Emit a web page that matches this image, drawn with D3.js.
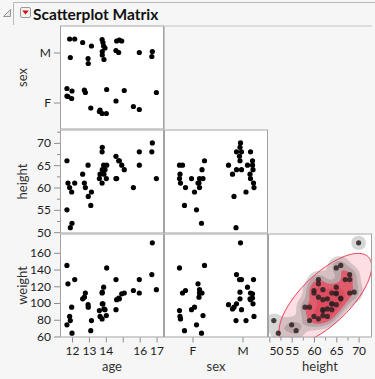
<!DOCTYPE html>
<html>
<head>
<meta charset="utf-8">
<script src="https://cdn.jsdelivr.net/npm/d3@7"></script>
<style>
  body { margin: 0; background: #f6f6f6; }
  svg { display: block; font-family: Lato, "Noto Sans", sans-serif; }
</style>
</head>
<body>
<script>
// Big Class, 40 students
const names = ['KATIE', 'LOUISE', 'JANE', 'JACLYN', 'LILLIE', 'TIM', 'JAMES', 'ROBERT', 'BARBARA', 'ALICE',
  'SUSAN', 'JOHN', 'JOE', 'MICHAEL', 'DAVID', 'JUDY', 'ELIZABETH', 'LESLIE', 'CAROL', 'PATTY',
  'FREDERICK', 'ALFRED', 'HENRY', 'LEWIS', 'EDWARD', 'CHRIS', 'JEFFREY', 'MARY', 'AMY', 'ROBERT',
  'WILLIAM', 'CLAY', 'MARK', 'DANNY', 'MARTHA', 'MARION', 'PHILLIP', 'LINDA', 'KIRK', 'LAWRENCE']
const ages = [12, 12, 12, 12, 12, 12, 12, 12, 13, 13, 13, 13, 13, 13, 13, 14, 14, 14, 14, 14,
  14, 14, 14, 14, 14, 14, 14, 15, 15, 15, 15, 15, 15, 15, 16, 16, 16, 17, 17, 17]
const sexes = ['F', 'F', 'F', 'F', 'F', 'M', 'M', 'M', 'F', 'F', 'F', 'M', 'M', 'M', 'M', 'F', 'F', 'F', 'F', 'F',
  'M', 'M', 'M', 'M', 'M', 'M', 'M', 'F', 'F', 'M', 'M', 'M', 'M', 'M', 'F', 'F', 'M', 'F', 'M', 'M']
const heights = [59, 61, 55, 66, 52, 60, 61, 51, 60, 61, 56, 65, 63, 58, 59, 61, 62, 65, 63, 62,
  63, 64, 65, 64, 68, 64, 69, 62, 64, 67, 65, 66, 62, 66, 60, 65, 68, 62, 68, 70]
const weights = [95, 123, 74, 145, 64, 84, 128, 79, 112, 107, 67, 98, 105, 95, 79, 81, 91, 142, 84, 85,
  93, 99, 119, 92, 112, 99, 113, 92, 112, 128, 111, 105, 104, 106, 115, 112, 128, 116, 134, 172]

// jittered positions as drawn
const ageShown = [11.98, 11.76, 11.70, 11.70, 12.00, 11.86, 12.16, 11.90, 12.79, 12.73,
  13.11, 12.95, 12.63, 12.96, 13.15, 13.78, 13.62, 14.05, 13.66, 14.03,
  13.89, 13.79, 13.87, 13.95, 13.78, 13.83, 13.79, 14.60, 15.09, 14.60,
  14.94, 14.80, 14.64, 14.76, 15.63, 15.98, 15.98, 16.99, 16.72, 16.75]
const sexRowShown = [0.08, 0.12, 0.13, 0.28, 0.23, 1.27, 1.27, 0.90, 0.20, 0.25,
  -0.11, 0.88, 1.20, 0.78, 1.13, -0.22, -0.18, 0.26, -0.15, -0.22,
  0.86, 0.95, 1.13, 1.09, 1.26, 1.20, 1.02, 0.03, 0.24, 1.04,
  1.23, 1.25, 1.23, 1.00, -0.08, -0.14, 1.00, 0.20, 0.92, 1.02]
const sexColShown = [0.04, 0.11, 0.08, 0.24, 0.18, 1.23, 1.22, 0.87, 0.14, 0.13,
  -0.16, 0.72, 1.15, 0.83, 1.07, -0.24, -0.26, -0.26, -0.25, 0.21,
  0.80, 0.88, 1.10, 0.98, 1.16, 1.21, 0.95, -0.02, 0.19, 0.94,
  1.20, 0.95, 1.16, 1.20, -0.14, -0.20, 0.98, 0.14, 0.88, 0.96]

const sexLevels = ['F', 'M']
const ageTicks = [12, 13, 14, 15, 16, 17]
const ageLabels = [12, 13, 14, 16, 17]
const heightTicks = [50, 55, 60, 65, 70]
const heightMinor = [52.5, 57.5, 62.5, 67.5, 72.5]
const weightTicks = [60, 80, 100, 120, 140, 160]

const rowVars = ['sex', 'height', 'weight']
const colVars = ['age', 'sex', 'height']

const width = 375
const height = 379
const CELL = 104
const X0 = 60
const Y0 = 25.5
const R = 2.6

const rows = names.map((n, i) => ({
  name: n,
  age: ageShown[i],
  sexX: sexColShown[i],
  sexY: sexRowShown[i],
  height: heights[i],
  weight: weights[i]
}))

const xScale = {
  age: d3.scaleLinear().domain([11.29, 17.44]).range([0, CELL]),
  sex: d3.scaleLinear().domain([-0.57, 1.51]).range([0, CELL]),
  height: d3.scaleLinear().domain([49.7, 73]).range([0, CELL])
}
const yScale = {
  sex: d3.scaleLinear().domain([-0.54, 1.54]).range([CELL, 0]),
  height: d3.scaleLinear().domain([49.7, 73]).range([CELL, 0]),
  weight: d3.scaleLinear().domain([58.8, 183.1]).range([CELL, 0])
}
const xValue = { age: d => d.age, sex: d => d.sexX, height: d => d.height }
const yValue = { sex: d => d.sexY, height: d => d.height, weight: d => d.weight }

const svg = d3.select('body').append('svg')
  .attr('width', width)
  .attr('height', height)

svg.append('rect').attr('width', width).attr('height', height).attr('fill', '#f6f6f6')

// outline header
const head = svg.append('g')
head.append('path')
  .attr('d', 'M13.5,25 V2.5 H375')
  .attr('fill', 'none')
  .attr('stroke', '#b8b8b8')
head.append('path')
  .attr('d', 'M3.5,16.5 L10.5,9.5 L10.5,16.5 Z')
  .attr('fill', '#e8e8e8')
  .attr('stroke', '#8a8a8a')
  .attr('stroke-width', 0.9)
head.append('rect')
  .attr('x', 20.5).attr('y', 7.5)
  .attr('width', 10).attr('height', 10)
  .attr('rx', 1.5)
  .attr('fill', '#f2f2f2')
  .attr('stroke', '#9a9a9a')
head.append('path')
  .attr('d', 'M22.2,10.6 L28.8,10.6 L25.5,14.6 Z')
  .attr('fill', '#d81010')
head.append('text')
  .attr('x', 33).attr('y', 19.5)
  .attr('font-size', 15.5)
  .attr('font-weight', 'bold')
  .attr('fill', '#111')
  .text('Scatterplot Matrix')

const clipId = 'cellclip'
svg.append('defs').append('clipPath').attr('id', clipId)
  .append('rect').attr('width', CELL).attr('height', CELL)

rowVars.forEach((rv, r) => {
  colVars.forEach((cv, c) => {
    if (c > r) return
    const xs = xScale[cv]
    const ys = yScale[rv]
    const g = svg.append('g').attr('transform', `translate(${X0 + c * CELL},${Y0 + r * CELL})`)

    g.append('rect')
      .attr('width', CELL).attr('height', CELL)
      .attr('fill', '#fff')

    const plot = g.append('g').attr('clip-path', `url(#${clipId})`)

    if (rv === 'weight' && cv === 'height') {
      drawDensity(plot, xs, ys)
    } else {
      plot.selectAll('circle')
        .data(rows)
        .join('circle')
        .attr('cx', d => xs(xValue[cv](d)))
        .attr('cy', d => ys(yValue[rv](d)))
        .attr('r', R)
        .attr('fill', '#000')
    }

    g.append('rect')
      .attr('x', 0.5).attr('y', 0.5)
      .attr('width', CELL - 1).attr('height', CELL - 1)
      .attr('fill', 'none')
      .attr('stroke', '#a3a3a3')
  })
})

function drawDensity (plot, xs, ys) {
  // 95% bivariate normal density ellipse
  const mx = d3.mean(heights)
  const my = d3.mean(weights)
  const sx = d3.deviation(heights)
  const sy = d3.deviation(weights)
  const cov = d3.sum(heights, (h, i) => (h - mx) * (weights[i] - my)) / (heights.length - 1)
  const rho = cov / (sx * sy)
  const k = Math.sqrt(5.991)
  const ell = d3.range(0, 361, 3).map(a => {
    const t = a * Math.PI / 180
    return [
      xs(mx + k * sx * Math.cos(t)),
      ys(my + k * sy * (rho * Math.cos(t) + Math.sqrt(1 - rho * rho) * Math.sin(t)))
    ]
  })
  const line = d3.line().curve(d3.curveLinearClosed)

  plot.append('path')
    .attr('d', line(ell))
    .attr('fill', 'rgba(240,40,70,0.15)')

  // nonparametric density contours
  const bw = 5.5
  const p1 = 1 / (2 * Math.PI * bw * bw)
  const levels = [0.4 * p1, 0.95 * p1, 1.7 * p1, 2.9 * p1]
  const fills = ['rgba(120,120,120,0.3)', 'rgba(90,60,66,0.2)', 'rgba(246,45,70,0.6)', 'rgba(210,20,45,0.2)']
  const contours = d3.contourDensity()
    .x(d => xs(d.height))
    .y(d => ys(d.weight))
    .size([CELL, CELL])
    .cellSize(2)
    .bandwidth(bw)
    .thresholds(levels)(rows)

  plot.append('g')
    .selectAll('path')
    .data(contours)
    .join('path')
    .attr('d', d3.geoPath())
    .attr('fill', (d, i) => fills[i])

  plot.append('path')
    .attr('d', line(ell))
    .attr('fill', 'none')
    .attr('stroke', '#e83a52')
    .attr('stroke-width', 1)

  plot.selectAll('circle')
    .data(rows)
    .join('circle')
    .attr('cx', d => xs(d.height))
    .attr('cy', d => ys(d.weight))
    .attr('r', R)
    .attr('fill', '#2a2022')
    .attr('fill-opacity', 0.85)
}

// empty upper cells
svg.append('path')
  .attr('d', `M${X0 + CELL + 0.5},${Y0 + CELL + 0.5} V${Y0 + 0.5} H${X0 + 3 * CELL}`)
  .attr('fill', 'none')
  .attr('stroke', '#c4c4c4')

// axes
function styleAxis (g) {
  g.select('.domain').remove()
  g.selectAll('.tick line').attr('stroke', '#8c8c8c')
  g.selectAll('.tick text')
    .attr('fill', '#1c1c1c')
    .attr('font-size', 12)
    .attr('font-family', 'Lato, "Noto Sans", sans-serif')
}

const leftAxes = {
  sex: d3.axisLeft(yScale.sex).tickValues([0, 1]).tickFormat(d => sexLevels[d]),
  height: d3.axisLeft(yScale.height).tickValues(heightTicks),
  weight: d3.axisLeft(yScale.weight).tickValues(weightTicks)
}
rowVars.forEach((rv, r) => {
  const g = svg.append('g')
    .attr('transform', `translate(${X0},${Y0 + r * CELL})`)
  g.call(leftAxes[rv].tickSize(6).tickPadding(3)).call(styleAxis)
  if (rv === 'height') {
    g.append('g').call(d3.axisLeft(yScale.height).tickValues(heightMinor).tickSize(3).tickFormat(''))
      .call(styleAxis)
  }
  svg.append('text')
    .attr('transform', `translate(27,${Y0 + r * CELL + CELL / 2}) rotate(-90)`)
    .attr('text-anchor', 'middle')
    .attr('font-size', 13)
    .attr('fill', '#333')
    .text(rv)
})

const bottomAxes = {
  age: d3.axisBottom(xScale.age).tickValues(ageTicks).tickFormat(d => ageLabels.includes(d) ? d : ''),
  sex: d3.axisBottom(xScale.sex).tickValues([0, 1]).tickFormat(d => sexLevels[d]),
  height: d3.axisBottom(xScale.height).tickValues(heightTicks)
}
colVars.forEach((cv, c) => {
  const g = svg.append('g')
    .attr('transform', `translate(${X0 + c * CELL},${Y0 + 3 * CELL})`)
  g.call(bottomAxes[cv].tickSize(5).tickPadding(4)).call(styleAxis)
  if (cv === 'height') {
    g.append('g').call(d3.axisBottom(xScale.height).tickValues(heightMinor.slice(0, 4)).tickSize(3).tickFormat(''))
      .call(styleAxis)
  }
  // keep labels inside the cell
  g.selectAll('.tick').each(function (d) {
    const t = d3.select(this).select('text')
    if (!t.text()) return
    const len = t.node().getComputedTextLength()
    const left = xScale[cv](d) - len / 2
    if (left < 1) t.attr('dx', 1 - left)
  })
  svg.append('text')
    .attr('x', X0 + c * CELL + CELL / 2)
    .attr('y', 371)
    .attr('text-anchor', 'middle')
    .attr('font-size', 13)
    .attr('fill', '#333')
    .text(cv)
})
</script>
</body>
</html>
